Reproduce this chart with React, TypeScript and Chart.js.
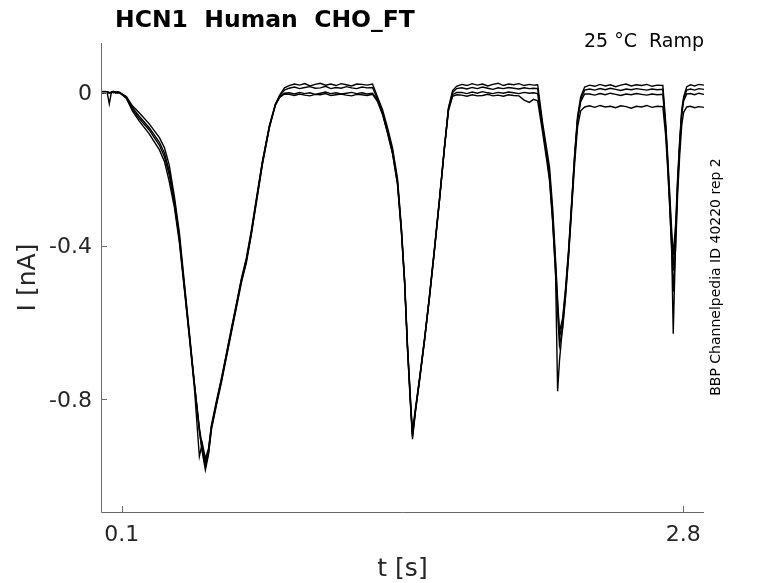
import { useEffect, useRef } from "react";
import { Chart, registerables, Plugin } from "chart.js";

Chart.register(...registerables);

// sample times [s], shared by all sweeps
const timeS = [
  0, 0.01, 0.02, 0.03, 0.04, 0.05, 0.06, 0.07, 0.08, 0.09,
  0.122, 0.151, 0.184, 0.232, 0.281, 0.305, 0.328, 0.353, 0.377, 0.401, 0.425, 0.449, 0.473, 0.487, 0.502,
  0.517, 0.531, 0.555, 0.579, 0.603, 0.627, 0.651, 0.675, 0.699, 0.723, 0.747, 0.776, 0.81, 0.839, 0.858, 0.882,
  0.905, 0.93, 0.955, 0.98, 1.005, 1.03, 1.055, 1.08, 1.105, 1.13, 1.155, 1.18, 1.205, 1.23, 1.255, 1.28, 1.306,
  1.33, 1.354, 1.378, 1.402, 1.426, 1.445, 1.46, 1.474, 1.489, 1.498,
  1.513, 1.532, 1.556, 1.58, 1.604, 1.628, 1.652, 1.671, 1.691, 1.71,
  1.735, 1.76, 1.785, 1.81, 1.835, 1.86, 1.885, 1.91, 1.935, 1.96, 1.985, 2.01, 2.035, 2.06, 2.08, 2.1,
  2.124, 2.143, 2.157, 2.172, 2.186, 2.196, 2.205,
  2.22, 2.234, 2.249, 2.263, 2.278, 2.292, 2.307, 2.326,
  2.35, 2.375, 2.4, 2.425, 2.45, 2.475, 2.5, 2.525, 2.55, 2.575, 2.6, 2.625, 2.65, 2.675, 2.702,
  2.716, 2.726, 2.735, 2.745, 2.752,
  2.764, 2.773, 2.783, 2.793, 2.802, 2.817,
  2.835, 2.855, 2.875, 2.9,
];

// current [nA], sweep 1..4
const traceA = [
  0.002, 0.0, 0.003, -0.001, -0.03, 0.001, 0.003, 0.0, 0.002, -0.001,
  -0.011, -0.035, -0.053, -0.082, -0.118, -0.144, -0.189, -0.272, -0.366, -0.497, -0.627, -0.757, -0.88, -0.938, -0.985,
  -0.945, -0.88, -0.817, -0.757, -0.692, -0.627, -0.562, -0.497, -0.445, -0.371, -0.288, -0.189, -0.092, -0.032, -0.008, 0.012,
  0.018, 0.022, 0.019, 0.023, 0.017, 0.021, 0.024, 0.019, 0.022, 0.018, 0.023, 0.02, 0.017, 0.022, 0.021, 0.019, 0.022,
  -0.012, -0.045, -0.092, -0.145, -0.225, -0.355, -0.487, -0.662, -0.812, -0.898,
  -0.828, -0.75, -0.646, -0.533, -0.41, -0.28, -0.142, -0.04, 0.005, 0.016,
  0.021, 0.018, 0.023, 0.019, 0.022, 0.017, 0.021, 0.024, 0.018, 0.022, 0.02, 0.023, 0.018, 0.021, 0.019, 0.02,
  -0.08, -0.145, -0.195, -0.3, -0.435, -0.54, -0.625,
  -0.59, -0.512, -0.408, -0.29, -0.16, -0.062, -0.012, 0.014,
  0.019, 0.016, 0.021, 0.017, 0.02, 0.015, 0.019, 0.022, 0.017, 0.02, 0.018, 0.021, 0.016, 0.019, 0.018,
  -0.08, -0.172, -0.262, -0.365, -0.425,
  -0.34, -0.225, -0.125, -0.045, -0.012, 0.015,
  0.02, 0.017, 0.021, 0.019,
];

const traceB = [
  0.001, 0.003, -0.002, 0.002, 0.0, -0.001, 0.002, 0.001, -0.002, 0.0,
  -0.016, -0.045, -0.068, -0.098, -0.138, -0.168, -0.215, -0.29, -0.385, -0.51, -0.635, -0.76, -0.875, -0.925, -0.965,
  -0.935, -0.872, -0.81, -0.75, -0.685, -0.62, -0.555, -0.49, -0.438, -0.365, -0.282, -0.183, -0.088, -0.03, -0.01, 0.006,
  0.011, 0.014, 0.01, 0.013, 0.015, 0.011, 0.012, 0.016, 0.01, 0.013, 0.011, 0.015, 0.012, 0.01, 0.014, 0.012, 0.013,
  -0.018, -0.052, -0.1, -0.152, -0.232, -0.36, -0.49, -0.66, -0.805, -0.885,
  -0.822, -0.745, -0.642, -0.528, -0.405, -0.276, -0.14, -0.042, 0.0, 0.01,
  0.012, 0.009, 0.013, 0.01, 0.014, 0.011, 0.008, 0.012, 0.01, 0.013, 0.011, 0.009, 0.012, 0.01, 0.011, 0.01,
  -0.09, -0.158, -0.21, -0.318, -0.45, -0.555, -0.64,
  -0.6, -0.52, -0.415, -0.296, -0.166, -0.068, -0.018, 0.006,
  0.009, 0.006, 0.01, 0.007, 0.011, 0.008, 0.005, 0.009, 0.007, 0.01, 0.008, 0.006, 0.009, 0.007, 0.008,
  -0.092, -0.185, -0.278, -0.385, -0.465,
  -0.36, -0.238, -0.135, -0.052, -0.018, 0.006,
  0.009, 0.006, 0.01, 0.008,
];

const traceC = [
  -0.001, 0.001, 0.002, 0.0, -0.002, 0.001, -0.001, 0.002, 0.0, -0.002,
  -0.014, -0.048, -0.075, -0.108, -0.15, -0.18, -0.232, -0.3, -0.392, -0.515, -0.64, -0.77, -0.95, -0.915, -0.955,
  -0.93, -0.868, -0.806, -0.746, -0.682, -0.616, -0.552, -0.486, -0.432, -0.36, -0.278, -0.18, -0.086, -0.03, -0.012, -0.002,
  -0.001, -0.004, 0.0, -0.003, -0.001, -0.005, -0.002, 0.001, -0.003, -0.001, -0.004, -0.002, 0.0, -0.003, -0.001, -0.004, -0.002,
  -0.02, -0.055, -0.104, -0.158, -0.238, -0.365, -0.495, -0.668, -0.818, -0.905,
  -0.83, -0.752, -0.648, -0.535, -0.412, -0.282, -0.145, -0.045, -0.006, 0.0,
  0.0, -0.003, 0.001, -0.002, 0.002, -0.001, -0.003, 0.0, -0.002, 0.001, -0.001, -0.003, 0.0, -0.002, -0.001, -0.003,
  -0.095, -0.165, -0.22, -0.33, -0.47, -0.78, -0.7,
  -0.61, -0.528, -0.42, -0.3, -0.17, -0.072, -0.024, -0.004,
  -0.004, -0.007, -0.003, -0.006, -0.002, -0.005, -0.008, -0.004, -0.006, -0.003, -0.005, -0.007, -0.004, -0.006, -0.005,
  -0.095, -0.195, -0.29, -0.42, -0.63,
  -0.38, -0.245, -0.14, -0.058, -0.022, -0.004,
  -0.003, -0.006, -0.002, -0.005,
];

const traceD = [
  0.0, -0.002, 0.001, 0.002, -0.001, 0.0, 0.002, -0.002, 0.001, 0.0,
  -0.012, -0.04, -0.062, -0.092, -0.13, -0.158, -0.205, -0.282, -0.378, -0.505, -0.632, -0.762, -0.884, -0.935, -0.975,
  -0.94, -0.876, -0.813, -0.753, -0.688, -0.623, -0.558, -0.493, -0.44, -0.368, -0.285, -0.186, -0.09, -0.033, -0.014, -0.004,
  -0.005, -0.008, -0.004, -0.007, -0.009, -0.005, -0.006, -0.003, -0.008, -0.006, -0.004, -0.007, -0.009, -0.005, -0.006, -0.008, -0.005,
  -0.024, -0.058, -0.106, -0.16, -0.24, -0.368, -0.498, -0.67, -0.822, -0.892,
  -0.826, -0.748, -0.645, -0.531, -0.408, -0.279, -0.144, -0.048, -0.01, -0.006,
  -0.007, -0.01, -0.006, -0.009, -0.008, -0.005, -0.009, -0.007, -0.01, -0.006, -0.008, -0.009, -0.02, -0.026, -0.018, -0.022,
  -0.105, -0.175, -0.23, -0.338, -0.472, -0.575, -0.66,
  -0.618, -0.535, -0.428, -0.31, -0.185, -0.09, -0.048, -0.038,
  -0.035, -0.039, -0.034, -0.038, -0.036, -0.04, -0.035, -0.037, -0.041, -0.036, -0.038, -0.034, -0.039, -0.036, -0.037,
  -0.115, -0.205, -0.3, -0.41, -0.52,
  -0.4, -0.268, -0.165, -0.085, -0.052, -0.038,
  -0.036, -0.04, -0.037, -0.039,
];

const sweeps = [traceA, traceB, traceC, traceD];

const xTickValues = [0.1, 2.8];
const yTickValues = [-0.8, -0.4, 0];

const chartTitle = "HCN1  Human  CHO_FT";
const conditionLabel = "25 °C  Ramp";
const sourceLabel = "BBP Channelpedia ID 40220 rep 2";

const FONT = '"DejaVu Sans", "Liberation Sans", sans-serif';
const TEXT = "#262626";

// inward ticks, bare left/bottom axes and the loose labels
const matlabFrame: Plugin<"line"> = {
  id: "matlabFrame",
  afterDraw(chart) {
    const { ctx, chartArea: a, scales } = chart;
    ctx.save();
    ctx.strokeStyle = "#6a6a6a";
    ctx.lineWidth = 1;
    ctx.beginPath();
    ctx.moveTo(a.left + 0.5, a.top);
    ctx.lineTo(a.left + 0.5, a.bottom + 0.5);
    ctx.lineTo(a.right, a.bottom + 0.5);
    for (const v of xTickValues) {
      const px = Math.round(scales.x.getPixelForValue(v)) + 0.5;
      ctx.moveTo(px, a.bottom);
      ctx.lineTo(px, a.bottom - 6);
    }
    for (const v of yTickValues) {
      const py = Math.round(scales.y.getPixelForValue(v)) + 0.5;
      ctx.moveTo(a.left, py);
      ctx.lineTo(a.left + 6, py);
    }
    ctx.stroke();

    ctx.fillStyle = "#000";
    ctx.font = `bold 23.5px ${FONT}`;
    ctx.textAlign = "left";
    ctx.textBaseline = "alphabetic";
    ctx.fillText(chartTitle, 115, 27);

    ctx.font = `19px ${FONT}`;
    ctx.textAlign = "right";
    ctx.fillText(conditionLabel, 704, 47);

    ctx.translate(716, 277);
    ctx.rotate(-Math.PI / 2);
    ctx.font = `14px ${FONT}`;
    ctx.textAlign = "center";
    ctx.textBaseline = "middle";
    ctx.fillText(sourceLabel, 0, 0);
    ctx.restore();
  },
};

export default function App() {
  const canvasRef = useRef<HTMLCanvasElement | null>(null);

  useEffect(() => {
    if (!canvasRef.current) return;

    const chart = new Chart(canvasRef.current, {
      type: "line",
      data: {
        datasets: sweeps.map((trace) => ({
          data: trace.map((v, i) => ({ x: timeS[i], y: v })),
          borderColor: "#000",
          borderWidth: 1.4,
          pointRadius: 0,
          tension: 0,
          fill: false,
        })),
      },
      options: {
        responsive: false,
        animation: false,
        layout: { padding: { top: 43, right: 74, left: 0, bottom: 0 } },
        plugins: {
          legend: { display: false },
          tooltip: { enabled: false },
          title: { display: false },
        },
        scales: {
          x: {
            type: "linear",
            min: 0,
            max: 2.9,
            grid: { display: false, drawTicks: false },
            border: { display: false },
            afterBuildTicks: (scale) => {
              scale.ticks = xTickValues.map((value) => ({ value }));
            },
            afterFit: (scale) => {
              scale.height = 71;
            },
            ticks: {
              autoSkip: false,
              maxRotation: 0,
              padding: 10,
              color: TEXT,
              font: { family: FONT, size: 22 },
              callback: (v) => String(v),
            },
            title: {
              display: true,
              text: "t [s]",
              color: TEXT,
              font: { family: FONT, size: 25 },
              padding: { top: 0, bottom: -1 },
            },
          },
          y: {
            type: "linear",
            min: -1.095,
            max: 0.129,
            grid: { display: false, drawTicks: false },
            border: { display: false },
            afterBuildTicks: (scale) => {
              scale.ticks = yTickValues.map((value) => ({ value }));
            },
            afterFit: (scale) => {
              scale.width = 101;
            },
            ticks: {
              autoSkip: false,
              padding: 9,
              labelOffset: 2,
              color: TEXT,
              font: { family: FONT, size: 22 },
              callback: (v) => String(v),
            },
            title: {
              display: true,
              text: "I [nA]",
              color: TEXT,
              font: { family: FONT, size: 25 },
              padding: { top: 13, bottom: 0 },
            },
          },
        },
      },
      plugins: [matlabFrame],
    });

    return () => chart.destroy();
  }, []);

  return (
    <div style={{ position: "absolute", left: 0, top: 0, width: 778, height: 583, background: "#fff" }}>
      <canvas ref={canvasRef} width={778} height={583} style={{ display: "block" }} />
    </div>
  );
}
